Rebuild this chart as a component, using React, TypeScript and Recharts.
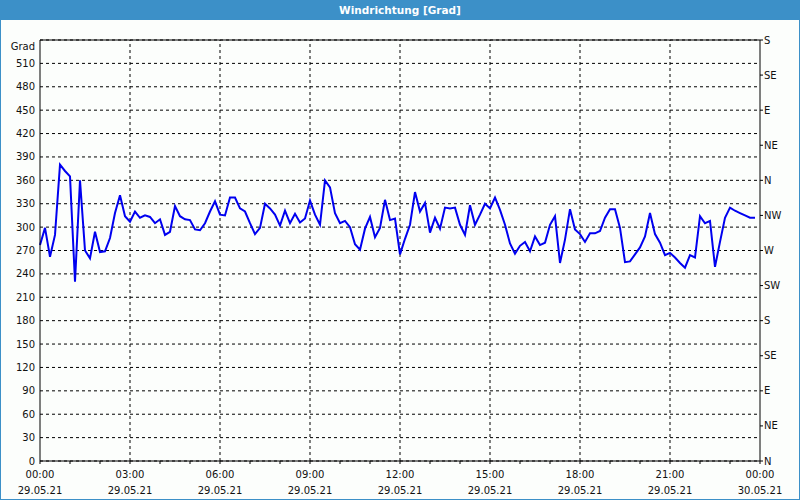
import { CartesianGrid, Line, LineChart, ReferenceLine, XAxis, YAxis } from "recharts";

// wind direction in degrees, one value every 10 minutes from 29.05.21 00:00
const directions = [
  277, 299, 262, 290, 380, 372, 365, 230, 360, 270, 260, 294, 268, 269, 286, 318, 341, 314, 307, 320, 312, 315, 313, 305, 310,
  290, 294, 327, 314, 310, 309, 297, 296, 305, 320, 333, 316, 315, 338, 338, 324, 320, 305, 291, 299, 330, 324, 316, 302,
  321, 305, 317, 306, 311, 334, 316, 303, 360, 351, 318, 305, 308, 300, 278, 271, 298, 313, 287, 299, 335, 309, 311, 265,
  285, 303, 345, 320, 331, 293, 312, 298, 325, 324, 325, 303, 290, 328, 303, 316, 330, 324, 338, 322, 303, 279, 266, 276,
  281, 269, 288, 277, 280, 303, 314, 254, 284, 323, 297, 291, 281, 292, 292, 295, 312, 323, 323, 299, 255, 256, 265, 274,
  288, 318, 291, 280, 264, 267, 261, 254, 248, 264, 261, 314, 305, 308, 249, 281, 312, 325, 321, 318, 315, 312, 312,
];
const stepMinutes = 10;

const hourTicks = [
  0, 60, 120, 180, 240, 300, 360, 420, 480, 540, 600, 660, 720, 780, 840, 900, 960, 1020, 1080, 1140, 1200, 1260,
  1320, 1380, 1440,
];
const labelMinutes = [0, 180, 360, 540, 720, 900, 1080, 1260, 1440];
const labelTimes = ["00:00", "03:00", "06:00", "09:00", "12:00", "15:00", "18:00", "21:00", "00:00"];
const labelDates = [
  "29.05.21", "29.05.21", "29.05.21", "29.05.21", "29.05.21", "29.05.21", "29.05.21", "29.05.21", "30.05.21",
];
const gridMinutes = [180, 360, 540, 720, 900, 1080, 1260];

const degreeTicks = [0, 30, 60, 90, 120, 150, 180, 210, 240, 270, 300, 330, 360, 390, 420, 450, 480, 510, 540];
const compassTicks = [0, 45, 90, 135, 180, 225, 270, 315, 360, 405, 450, 495, 540];
const compassLabels = ["N", "NE", "E", "SE", "S", "SW", "W", "NW", "N", "NE", "E", "SE", "S"];

const chartData = directions.map((d, i) => ({ t: i * stepMinutes, dir: d }));

const font = "'DejaVu Sans', Verdana, sans-serif";
const textColor = "#111";
const blue = "#3c90c8";

const TimeTick = (props: any) => {
  const { x, y, payload } = props;
  const idx = labelMinutes.indexOf(payload.value);
  if (idx < 0) return null;
  return (
    <text x={x} y={y} textAnchor="middle" fontSize={10} fontFamily={font} fill={textColor}>
      <tspan x={x} dy={12}>{labelTimes[idx]}</tspan>
      <tspan x={x} dy={16}>{labelDates[idx]}</tspan>
    </text>
  );
};

const DegreeTick = (props: any) => {
  const { x, y, payload } = props;
  const isTop = payload.value === 540;
  return (
    <text x={x} y={y} dy={isTop ? 9.5 : 3.5} textAnchor="end" fontSize={10} fontFamily={font} fill={textColor}>
      {isTop ? "Grad" : payload.value}
    </text>
  );
};

const CompassTick = (props: any) => {
  const { x, y, payload } = props;
  const idx = compassTicks.indexOf(payload.value);
  return (
    <text x={x} y={y} dy={3.5} textAnchor="start" fontSize={10} fontFamily={font} fill={textColor}>
      {compassLabels[idx]}
    </text>
  );
};

const App = () => {
  return (
    <div style={{ position: "absolute", left: 0, top: 0, width: 800, height: 500, background: blue }}>
      <div
        style={{
          position: "absolute",
          left: 1,
          top: 20,
          width: 798,
          height: 479,
          background: "#fcfefc",
        }}
      />
      <div
        style={{
          position: "absolute",
          left: 0,
          top: 0,
          width: 800,
          height: 20,
          lineHeight: "20px",
          textAlign: "center",
          color: "#fff",
          fontFamily: font,
          fontWeight: "bold",
          fontSize: 10.5,
        }}
      >
        Windrichtung [Grad]
      </div>
      <div style={{ position: "absolute", left: 0, top: 0 }}>
        <LineChart
          width={800}
          height={500}
          data={chartData}
          margin={{ top: 40, right: 0, bottom: 0, left: 0 }}
        >
          <CartesianGrid vertical={false} stroke="#000" strokeDasharray="3 3" />
          <XAxis
            dataKey="t"
            type="number"
            domain={[0, 1440]}
            ticks={hourTicks}
            interval={0}
            height={39}
            tick={<TimeTick />}
            tickSize={3}
            tickMargin={2}
            axisLine={{ stroke: "#000" }}
            tickLine={{ stroke: "#000" }}
          />
          <YAxis
            domain={[0, 540]}
            ticks={degreeTicks}
            interval={0}
            width={40}
            tick={<DegreeTick />}
            tickSize={0}
            tickMargin={5}
            tickLine={false}
            axisLine={{ stroke: "#000" }}
          />
          <YAxis
            yAxisId="right"
            orientation="right"
            domain={[0, 540]}
            ticks={compassTicks}
            interval={0}
            width={40}
            tickSize={3}
            tickMargin={1}
            tick={<CompassTick />}
            axisLine={{ stroke: "#000" }}
            tickLine={{ stroke: "#000" }}
          />
          {gridMinutes.map((m) => (
            <ReferenceLine key={m} x={m} stroke="#000" strokeDasharray="3 3" />
          ))}
          <ReferenceLine y={540} stroke="#000" />
          <Line
            yAxisId="right"
            type="linear"
            dataKey="dir"
            stroke="none"
            dot={false}
            activeDot={false}
            isAnimationActive={false}
          />
          <Line
            type="linear"
            dataKey="dir"
            stroke="#0000f0"
            strokeWidth={2}
            dot={false}
            isAnimationActive={false}
          />
        </LineChart>
      </div>
    </div>
  );
};

export default App;
